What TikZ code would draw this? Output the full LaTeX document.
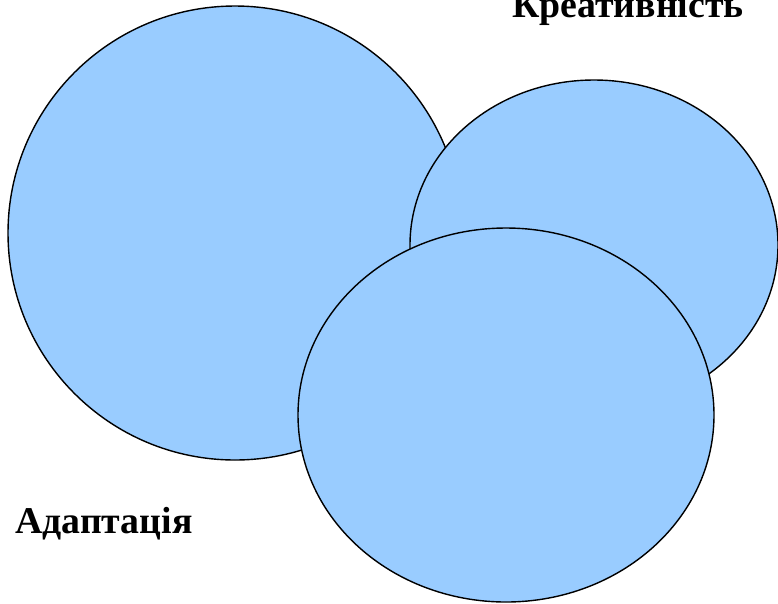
\documentclass[tikz,border=0pt]{standalone}
\usepackage{fontspec}
\setmainfont{Liberation Serif}
\usetikzlibrary{positioning}
\definecolor{blobblue}{HTML}{99CCFF}

\begin{document}
\begin{tikzpicture}[x=0.02cm,y=-0.02cm]
\useasboundingbox (0,0) rectangle (778,603);
\draw[fill=blobblue,draw=black,thick] (235,233) circle [radius=227];
\draw[fill=blobblue,draw=black,thick] (594,245) ellipse [x radius=184,y radius=165];
\draw[fill=blobblue,draw=black,thick] (506,415) ellipse [x radius=208,y radius=187];

\node[font=\fontsize{21.5}{24}\selectfont\bfseries,anchor=base] (creat) at (628,17) {Креативність};
\node[font=\fontsize{21.5}{24}\selectfont\bfseries,anchor=base] (adapt) at (104,533) {Адаптація};

\end{tikzpicture}
\end{document}
